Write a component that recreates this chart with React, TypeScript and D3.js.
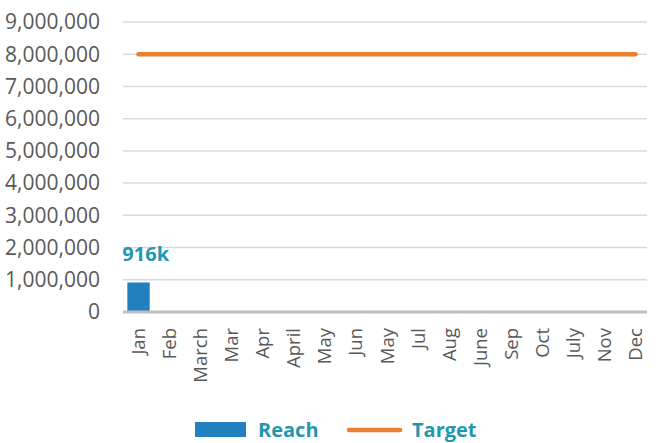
import * as d3 from "d3";

const months = ["Jan", "Feb", "March", "Mar", "Apr", "April", "May", "Jun", "May", "Jul", "Aug", "June", "Sep", "Oct", "July", "Nov", "Dec"];
const reach: (number | null)[] = [916000, null, null, null, null, null, null, null, null, null, null, null, null, null, null, null, null];
const target = [8000000, 8000000, 8000000, 8000000, 8000000, 8000000, 8000000, 8000000, 8000000, 8000000, 8000000, 8000000, 8000000, 8000000, 8000000, 8000000, 8000000];
const yTicks = [0, 1000000, 2000000, 3000000, 4000000, 5000000, 6000000, 7000000, 8000000, 9000000];

const W = 659;
const H = 443;
const margin = { top: 22, right: 8, bottom: 131, left: 123 };
const font = "'Open Sans', sans-serif";
const teal = "#1F97B0";

const App = () => {
    const idx = months.map((_, i) => String(i));
    const x = d3.scaleBand().domain(idx).range([margin.left, W - margin.right]).paddingInner(0.28).paddingOuter(0.14);
    const y = d3.scaleLinear().domain([0, 9000000]).range([H - margin.bottom, margin.top]);
    const fmt = d3.format(",");
    const cx = (i: number) => x(String(i))! + x.bandwidth() / 2;

    const line = d3
        .line<number>()
        .x((_, i) => cx(i))
        .y((d) => y(d));

    return (
        <svg width={W} height={H} style={{ position: "absolute", left: 0, top: 0 }} fontFamily={font}>
            {/* gridlines + y labels */}
            {yTicks.map((t) => (
                <g key={t}>
                    {t > 0 && <line x1={margin.left} x2={W - margin.right - 4} y1={y(t)} y2={y(t)} stroke="#d9d9d9" strokeWidth={1.5} />}
                    <text x={100} y={y(t)} dy="0.35em" textAnchor="end" fontSize={21} fill="#595959">
                        {fmt(t)}
                    </text>
                </g>
            ))}

            {/* bars */}
            {reach.map((v, i) =>
                v == null ? null : (
                    <g key={i}>
                        <rect x={x(String(i))} y={y(v)} width={x.bandwidth()} height={y(0) - y(v)} fill="#2280BF" />
                        <text x={x(String(i))! - 5} y={y(v) - 21} fontSize={20} fontWeight="bold" fill={teal}>
                            {Math.round(v / 1000)}k
                        </text>
                    </g>
                )
            )}

            {/* axis line */}
            <line x1={margin.left} x2={W - margin.right - 4} y1={y(0)} y2={y(0)} stroke="#bfbfbf" strokeWidth={3} />

            {/* target */}
            <path d={line(target)!} fill="none" stroke="#ED7D31" strokeWidth={4.5} strokeLinecap="round" />

            {/* x labels */}
            {months.map((m, i) => (
                <text key={i} transform={`translate(${cx(i) + 6.5},${y(0) + 16}) rotate(-90)`} textAnchor="end" fontSize={18.5} fill="#595959">
                    {m}
                </text>
            ))}

            {/* legend */}
            <rect x={195} y={422} width={51} height={15} fill="#2280BF" />
            <text x={258} y={430} dy="0.35em" fontSize={20} fontWeight="bold" fill={teal}>
                Reach
            </text>
            <line x1={349} x2={400} y1={430} y2={430} stroke="#ED7D31" strokeWidth={4.5} strokeLinecap="round" />
            <text x={412} y={430} dy="0.35em" fontSize={20} fontWeight="bold" fill={teal}>
                Target
            </text>
        </svg>
    );
};

export default App;
